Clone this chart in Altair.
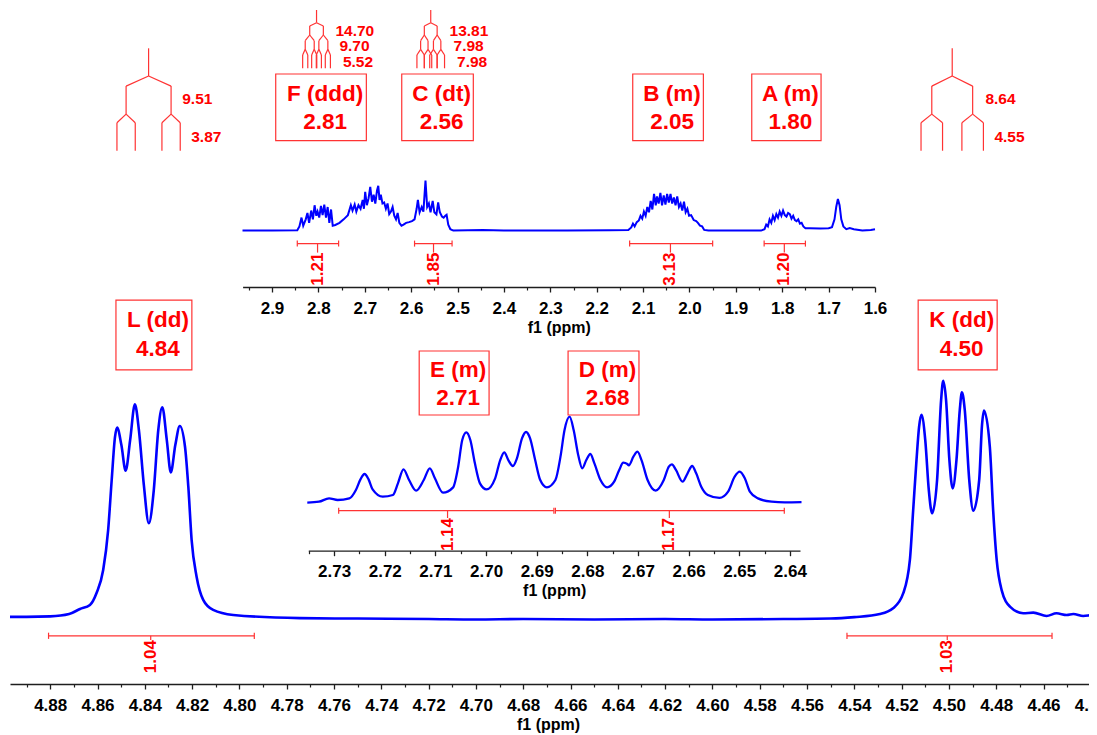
import altair as alt
import pandas as pd

MHZ = 500.0
FONT = "Liberation Sans"
RED = "#FF0000"
LINE_RED = "#FF3333"
BLUE = "#0000FF"
AXC = "#1E1E1E"

# ---------------- spectra (ppm, relative intensity) ----------------
MAIN_PPM = [4.8970, 4.8900, 4.8800, 4.8720, 4.8674, 4.8632, 4.8604, 4.8576, 4.8555, 4.8540,
            4.8526, 4.8517, 4.8499, 4.8481, 4.8462, 4.8442, 4.8425, 4.8404, 4.8383, 4.8362,
            4.8343, 4.8326, 4.8307, 4.8290, 4.8271, 4.8252, 4.8230, 4.8216, 4.8202, 4.8181,
            4.8153, 4.8111, 4.8026, 4.7744, 4.7500, 4.7200, 4.7000, 4.6800, 4.6500, 4.6200,
            4.6000, 4.5700, 4.5500, 4.5400, 4.5292, 4.5236, 4.5193, 4.5165, 4.5151, 4.5137,
            4.5126, 4.5116, 4.5100, 4.5085, 4.5071, 4.5050, 4.5033, 4.5024, 4.5012, 4.4998,
            4.4984, 4.4968, 4.4954, 4.4945, 4.4933, 4.4914, 4.4897, 4.4872, 4.4860, 4.4852,
            4.4827, 4.4813, 4.4798, 4.4777, 4.4742, 4.4686, 4.4643, 4.4587, 4.4545, 4.4502,
            4.4474, 4.4432, 4.4390, 4.4300]
MAIN_INT = [1.3, 1.3, 1.5, 2.5, 4.6, 6.3, 11.3, 20.9, 37.6, 58.5,
            76.5, 80.4, 73.1, 62.4, 75.2, 90.1, 79.4, 56.4, 40.4, 54.3,
            79.4, 88.9, 75.2, 61.7, 73.1, 81.1, 72.4, 55.7, 33.4, 18.1,
            8.4, 4.2, 2.1, 0.8, 0.6, 0.4, 0.2, 0.4, 0.2, 0.4,
            0.2, 0.4, 0.6, 1.2, 2.5, 4.9, 11.2, 25.1, 46.0, 66.9,
            80.8, 85.7, 75.2, 54.3, 44.6, 58.5, 91.9, 100.0, 91.9, 66.9,
            55.0, 66.9, 87.8, 95.2, 87.8, 58.5, 45.7, 58.5, 81.5, 87.5,
            72.4, 46.0, 25.1, 12.5, 5.6, 2.8, 3.1, 1.7, 2.8, 2.1,
            2.5, 1.7, 2.1, 2.0]

TOP_PPM = [2.9636, 2.9000, 2.8455, 2.8409, 2.8364, 2.8327, 2.8273, 2.8236, 2.8200, 2.8155,
           2.8118, 2.8082, 2.8045, 2.8018, 2.7982, 2.7945, 2.7909, 2.7873, 2.7836, 2.7800,
           2.7764, 2.7727, 2.7691, 2.7636, 2.7545, 2.7455, 2.7364, 2.7300, 2.7264, 2.7218,
           2.7182, 2.7136, 2.7091, 2.7045, 2.7018, 2.6991, 2.6955, 2.6918, 2.6882, 2.6845,
           2.6809, 2.6773, 2.6736, 2.6709, 2.6682, 2.6655, 2.6618, 2.6582, 2.6545, 2.6509,
           2.6473, 2.6436, 2.6400, 2.6364, 2.6327, 2.6291, 2.6255, 2.6209, 2.6164, 2.6109,
           2.6045, 2.5982, 2.5927, 2.5882, 2.5855, 2.5818, 2.5773, 2.5736, 2.5691, 2.5655,
           2.5618, 2.5582, 2.5536, 2.5500, 2.5455, 2.5418, 2.5382, 2.5336, 2.5300, 2.5264,
           2.5236, 2.5200, 2.5155, 2.5091, 2.4455, 2.4000, 2.2636, 2.1727, 2.1318,
           2.1255, 2.1218, 2.1182, 2.1136, 2.1091, 2.1055, 2.1018, 2.0982, 2.0945, 2.0909,
           2.0873, 2.0836, 2.0800, 2.0764, 2.0727, 2.0700, 2.0664, 2.0627, 2.0591, 2.0555,
           2.0518, 2.0482, 2.0445, 2.0409, 2.0373, 2.0336, 2.0300, 2.0264, 2.0227, 2.0191,
           2.0155, 2.0118, 2.0082, 2.0045, 2.0009, 1.9964, 1.9909, 1.9855, 1.9818, 1.9773,
           1.9727, 1.9682, 1.9591, 1.8455,
           1.8382, 1.8345, 1.8309, 1.8273, 1.8236, 1.8200, 1.8164, 1.8127, 1.8091, 1.8055,
           1.8018, 1.7982, 1.7945, 1.7909, 1.7873, 1.7836, 1.7800, 1.7764, 1.7727, 1.7691,
           1.7655, 1.7618, 1.7582, 1.7545, 1.7500, 1.7409, 1.7182, 1.7000,
           1.6927, 1.6873, 1.6836, 1.6800, 1.6764, 1.6727, 1.6682, 1.6618, 1.6545, 1.6455,
           1.6273, 1.6091, 1.6000]
TOP_INT = [0.0, 0.0, 0.7, 8.4, 26.0, 9.8, 22.5, 35.2, 15.5, 40.1,
           22.5, 50.7, 29.6, 38.0, 26.0, 49.3, 31.0, 52.1, 26.0, 47.2,
           15.5, 42.2, 9.8, 11.2, 15.5, 22.5, 31.0, 50.7, 40.1, 52.1,
           38.0, 50.7, 43.6, 61.3, 43.6, 77.5, 50.7, 64.8, 87.4, 57.8,
           71.8, 54.2, 80.3, 89.5, 61.3, 71.8, 54.2, 56.3, 43.6, 54.2,
           33.1, 38.0, 47.2, 29.6, 22.5, 35.2, 15.5, 9.8, 11.9, 15.5,
           16.9, 19.0, 22.5, 43.6, 61.3, 36.6, 47.2, 38.0, 100.0, 47.2,
           54.2, 36.6, 59.2, 36.6, 32.4, 56.3, 36.6, 28.1, 26.0, 29.6,
           31.7, 11.9, 2.8, 0.0, 1.4, 0.0, 0.0, 0.7, 1.4,
           6.3, 14.0, 8.4, 16.9, 20.4, 29.6, 23.9, 38.0, 29.6, 47.2,
           36.6, 59.2, 42.2, 73.3, 50.7, 68.3, 54.2, 75.4, 50.7, 70.4,
           52.1, 73.3, 56.3, 73.3, 54.2, 66.2, 50.7, 68.3, 47.2, 54.2,
           40.1, 57.8, 36.6, 43.6, 29.6, 31.0, 21.1, 19.0, 15.5, 9.8,
           8.4, 1.4, 0.0, 0.0,
           2.8, 11.9, 8.4, 22.5, 15.5, 29.6, 21.1, 33.1, 26.0, 38.0,
           29.6, 40.1, 31.0, 28.1, 35.2, 33.1, 23.9, 29.6, 21.1, 19.0,
           22.5, 14.0, 15.5, 8.4, 4.9, 4.9, 4.2, 4.9,
           7.0, 22.5, 47.2, 63.4, 50.7, 22.5, 8.4, 2.8, 4.9, 2.8,
           0.0, 1.4, 2.8]

MID_PPM = [2.7353, 2.7330, 2.7310, 2.7293, 2.7270, 2.7257, 2.7248, 2.7240, 2.7232, 2.7224,
           2.7204, 2.7184, 2.7174, 2.7163, 2.7152, 2.7138, 2.7123, 2.7111, 2.7101, 2.7085,
           2.7065, 2.7055, 2.7047, 2.7039, 2.7031, 2.7022, 2.7012, 2.6999, 2.6982, 2.6972,
           2.6964, 2.6956, 2.6947, 2.6939, 2.6929, 2.6921, 2.6913, 2.6903, 2.6893, 2.6880,
           2.6863, 2.6853, 2.6845, 2.6835, 2.6827, 2.6818, 2.6810, 2.6802, 2.6794, 2.6786,
           2.6774, 2.6761, 2.6747, 2.6737, 2.6729, 2.6721, 2.6718, 2.6709, 2.6701, 2.6693,
           2.6681, 2.6665, 2.6649, 2.6639, 2.6633, 2.6625, 2.6612, 2.6602, 2.6593, 2.6585,
           2.6575, 2.6562, 2.6539, 2.6522, 2.6509, 2.6499, 2.6489, 2.6479, 2.6463, 2.6436,
           2.6410, 2.6377]
MID_INT = [-1.1, 0.0, 3.9, 2.0, 3.9, 13.8, 26.3, 32.6, 26.3, 14.5,
           5.9, 7.9, 21.6, 38.1, 25.5, 13.0, 25.5, 39.2, 27.5, 10.6,
           16.9, 41.2, 72.6, 81.6, 72.6, 45.1, 21.6, 14.5, 27.5, 49.0,
           58.1, 49.0, 42.0, 51.0, 74.5, 82.0, 74.5, 49.0, 25.5, 16.9,
           25.5, 53.0, 84.3, 100.0, 84.3, 54.9, 39.2, 49.0, 56.1, 45.1,
           25.5, 16.9, 23.6, 37.3, 45.9, 44.3, 42.8, 53.0, 58.8, 49.0,
           25.5, 13.0, 25.5, 41.2, 43.9, 37.3, 23.6, 33.4, 42.0, 33.4,
           17.7, 7.9, 4.4, 11.8, 29.4, 35.3, 27.5, 11.8, 3.9, 0.0,
           -0.7, -0.4]

# ---------------- integrals ----------------
MAIN_INT_START = [4.8807, 4.5431]
MAIN_INT_END = [4.7937, 4.4564]
MAIN_INT_MID = [4.8375, 4.5007]
MAIN_INT_VAL = ["1.04", "1.03"]

TOP_INT_START = [2.8455, 2.5927, 2.1290, 1.8390]
TOP_INT_END = [2.7564, 2.5118, 1.9500, 1.7500]
TOP_INT_MID = [2.8018, 2.5518, 2.0410, 1.7955]
TOP_INT_VAL = ["1.21", "1.85", "3.13", "1.20"]

MID_INT_START = [2.7291, 2.6863]
MID_INT_END = [2.6866, 2.6411]
MID_INT_MID = [2.7076, 2.6638]
MID_INT_VAL = ["1.14", "1.17"]

# ---------------- multiplet boxes ----------------
MAIN_BOX_LEFT = [4.8522, 4.5130]
MAIN_BOX_RIGHT = [4.8201, 4.4796]
MAIN_BOX_NAME = ["L (dd)", "K (dd)"]
MAIN_BOX_SHIFT = ["4.84", "4.50"]

TOP_BOX_LEFT = [2.8920, 2.6203, 2.1223, 1.8657]
TOP_BOX_RIGHT = [2.6966, 2.4660, 1.9700, 1.7163]
TOP_BOX_NAME = ["F (ddd)", "C (dt)", "B (m)", "A (m)"]
TOP_BOX_SHIFT = ["2.81", "2.56", "2.05", "1.80"]

MID_BOX_LEFT = [2.7132, 2.6838]
MID_BOX_RIGHT = [2.6994, 2.6698]
MID_BOX_NAME = ["E (m)", "D (m)"]
MID_BOX_SHIFT = ["2.71", "2.68"]

# ---------------- coupling trees (Hz) ----------------
MAIN_TREE_CENTER = [4.8384, 4.4986]
MAIN_TREE_J = [[9.51, 3.87], [8.64, 4.55]]
TOP_TREE_CENTER = [2.8040, 2.5578]
TOP_TREE_J = [[14.70, 9.70, 5.52], [13.81, 7.98, 7.98]]

# ---------------- axis ticks ----------------
MAIN_TICKS = [4.44, 4.46, 4.48, 4.50, 4.52, 4.54, 4.56, 4.58, 4.60, 4.62, 4.64, 4.66,
              4.68, 4.70, 4.72, 4.74, 4.76, 4.78, 4.80, 4.82, 4.84, 4.86, 4.88]
MAIN_MINOR = [4.45, 4.47, 4.49, 4.51, 4.53, 4.55, 4.57, 4.59, 4.61, 4.63, 4.65,
              4.67, 4.69, 4.71, 4.73, 4.75, 4.77, 4.79, 4.81, 4.83, 4.85, 4.87, 4.89]
TOP_TICKS = [1.6, 1.7, 1.8, 1.9, 2.0, 2.1, 2.2, 2.3, 2.4, 2.5, 2.6, 2.7, 2.8, 2.9]
TOP_MINOR = [1.65, 1.75, 1.85, 1.95, 2.05, 2.15, 2.25, 2.35, 2.45, 2.55, 2.65, 2.75, 2.85, 2.95]
MID_TICKS = [2.64, 2.65, 2.66, 2.67, 2.68, 2.69, 2.70, 2.71, 2.72, 2.73]
MID_MINOR = [2.645, 2.655, 2.665, 2.675, 2.685, 2.695, 2.705, 2.715, 2.725, 2.735]

# ---------------- layout ----------------
# the main axis runs past the right edge of the picture, as in the reference
W, H = 1095, 676

REGIONS = {
    "main": dict(
        ppm=MAIN_PPM, inten=MAIN_INT, interp="monotone", lw=2.6,
        xdom=[4.8970, 4.4340], xrange=[0, 1095], yrange=[612, 372.7],
        ticks=MAIN_TICKS, minor=MAIN_MINOR, fmt=".2f", offset=0, title_x=538,
        int_s=MAIN_INT_START, int_e=MAIN_INT_END, int_c=MAIN_INT_MID, int_v=MAIN_INT_VAL,
        int_lvl=-6.6, int_cap=1.3, int_top=-8.4,
        box_l=MAIN_BOX_LEFT, box_r=MAIN_BOX_RIGHT, box_n=MAIN_BOX_NAME, box_s=MAIN_BOX_SHIFT,
        box_t=133.7, box_b=104.5, txt1=125.2, txt2=113.4,
        tree_c=MAIN_TREE_CENTER, tree_j=MAIN_TREE_J,
        tree_lv=[238.9, 227.3, 223.1, 211.4, 207.8, 196.1],
        jlab_y=[217.7, 201.8], jlab_dx=[2, 11],
    ),
    "top": dict(
        ppm=TOP_PPM, inten=TOP_INT, interp="linear", lw=2.0,
        xdom=[2.9634, 1.6], xrange=[232.6, 865], yrange=[222.6, 172.6],
        ticks=TOP_TICKS, minor=TOP_MINOR, fmt=".1f", offset=-397, title_x=None,
        int_s=TOP_INT_START, int_e=TOP_INT_END, int_c=TOP_INT_MID, int_v=TOP_INT_VAL,
        int_lvl=-26.0, int_cap=6.0, int_top=-44.0,
        box_l=TOP_BOX_LEFT, box_r=TOP_BOX_RIGHT, box_n=TOP_BOX_NAME, box_s=TOP_BOX_SHIFT,
        box_t=313.2, box_b=179.8, txt1=273.6, txt2=217.8,
        tree_c=TOP_TREE_CENTER, tree_j=TOP_TREE_J,
        tree_lv=[441.2, 415.8, 409.2, 391.2, 379.8, 362.6, 351.2, 324.6],
        jlab_y=[399.2, 369.2, 337.8], jlab_dx=[5, 9, 12.5],
    ),
    "mid": dict(
        ppm=MID_PPM, inten=MID_INT, interp="monotone", lw=2.3,
        xdom=[2.7351, 2.6380], xrange=[298.3, 790], yrange=[493.7, 408.7],
        ticks=MID_TICKS, minor=MID_MINOR, fmt=".2f", offset=-133.3, title_x=None,
        int_s=MID_INT_START, int_e=MID_INT_END, int_c=MID_INT_MID, int_v=MID_INT_VAL,
        int_lvl=-10.6, int_cap=3.5, int_top=-19.2,
        box_l=MID_BOX_LEFT, box_r=MID_BOX_RIGHT, box_n=MID_BOX_NAME, box_s=MID_BOX_SHIFT,
        box_t=177.3, box_b=102.0, txt1=154.5, txt2=121.5,
        tree_c=[], tree_j=[], tree_lv=[], jlab_y=[], jlab_dx=[],
    ),
}


def tree_frame(centers, jsets, levels):
    rows = []
    for c, js in zip(centers, jsets):
        rows.append(dict(x=c, x2=c, y=levels[0], y2=levels[1]))
        nodes = [c]
        for k, j in enumerate(js):
            h = j / MHZ / 2.0
            ya, yb, yc = levels[2 * k + 1], levels[2 * k + 2], levels[2 * k + 3]
            nxt = []
            for n in nodes:
                for ch in (n + h, n - h):
                    rows.append(dict(x=n, x2=ch, y=ya, y2=yb))
                    rows.append(dict(x=ch, x2=ch, y=yb, y2=yc))
                    nxt.append(ch)
            nodes = nxt
    return pd.DataFrame(rows)


def build_region(R):
    xs = alt.Scale(domain=R["xdom"], range=R["xrange"], nice=False, zero=False)
    ys = alt.Scale(domain=[0, 100], range=R["yrange"], nice=False, zero=False)
    ax_kw = dict(values=R["ticks"], format=R["fmt"], orient="bottom", offset=R["offset"],
                 domainColor=AXC, domainWidth=1.3, tickColor=AXC, tickWidth=1.3, tickSize=5,
                 labelFont=FONT, labelFontSize=17, labelFontWeight="bold", labelColor="#000000",
                 labelPadding=8, labelOverlap=False, labelFlush=False,
                 title="f1 (ppm)", titleFont=FONT, titleFontSize=16, titleFontWeight="bold",
                 titleColor="#000000", titlePadding=3, grid=False)
    if R["title_x"] is not None:
        ax_kw["titleX"] = R["title_x"]
    ax_major = alt.Axis(**ax_kw)
    ax_minor = alt.Axis(values=R["minor"], orient="bottom", offset=R["offset"], domain=False,
                        labels=False, ticks=True, tickSize=3, tickColor=AXC, tickWidth=1.2,
                        title=None, grid=False)

    layers = []
    spec = pd.DataFrame({"ppm": R["ppm"], "inten": R["inten"]})
    layers.append(alt.Chart(spec).mark_line(color=BLUE, strokeWidth=R["lw"], interpolate=R["interp"]).encode(
        x=alt.X("ppm:Q", scale=xs, axis=ax_major),
        y=alt.Y("inten:Q", scale=ys, axis=None)))

    ig = pd.DataFrame({"s": R["int_s"], "e": R["int_e"], "c": R["int_c"], "lab": R["int_v"]})
    ig["lvl"] = R["int_lvl"]
    ig["top"] = R["int_top"]
    layers.append(alt.Chart(ig).mark_rule(color=LINE_RED, strokeWidth=1.2).encode(
        x=alt.X("s:Q", scale=xs, axis=ax_minor), x2="e:Q",
        y=alt.Y("lvl:Q", scale=ys, axis=None)))
    caps = pd.DataFrame({"x": list(R["int_s"]) + list(R["int_e"])})
    caps["y1"] = R["int_lvl"] - R["int_cap"]
    caps["y2"] = R["int_lvl"] + R["int_cap"]
    layers.append(alt.Chart(caps).mark_rule(color=LINE_RED, strokeWidth=1.2).encode(
        x=alt.X("x:Q", scale=xs, axis=None),
        y=alt.Y("y1:Q", scale=ys, axis=None), y2="y2:Q"))
    layers.append(alt.Chart(ig).mark_rule(color=LINE_RED, strokeWidth=1.2).encode(
        x=alt.X("c:Q", scale=xs, axis=None),
        y=alt.Y("lvl:Q", scale=ys, axis=None), y2="top:Q"))
    layers.append(alt.Chart(ig).mark_text(angle=270, align="right", baseline="middle", font=FONT,
                                          fontSize=17, fontWeight="bold", color=RED).encode(
        x=alt.X("c:Q", scale=xs, axis=None),
        y=alt.Y("top:Q", scale=ys, axis=None), text="lab:N"))

    bx = pd.DataFrame({"l": R["box_l"], "r": R["box_r"], "name": R["box_n"], "shift": R["box_s"]})
    bx["c"] = (bx["l"] + bx["r"]) / 2
    bx["t"] = R["box_t"]
    bx["b"] = R["box_b"]
    bx["t1"] = R["txt1"]
    bx["t2"] = R["txt2"]
    layers.append(alt.Chart(bx).mark_rect(fillOpacity=0, stroke=LINE_RED, strokeWidth=1.2).encode(
        x=alt.X("l:Q", scale=xs, axis=None), x2="r:Q",
        y=alt.Y("t:Q", scale=ys, axis=None), y2="b:Q"))
    for fld, lvl in (("name", "t1"), ("shift", "t2")):
        layers.append(alt.Chart(bx).mark_text(align="center", baseline="middle", dx=4, font=FONT,
                                              fontSize=22.5, fontWeight="bold", color=RED).encode(
            x=alt.X("c:Q", scale=xs, axis=None),
            y=alt.Y(f"{lvl}:Q", scale=ys, axis=None), text=f"{fld}:N"))

    if R["tree_c"]:
        tr = tree_frame(R["tree_c"], R["tree_j"], R["tree_lv"])
        layers.append(alt.Chart(tr).mark_rule(color=LINE_RED, strokeWidth=1.2).encode(
            x=alt.X("x:Q", scale=xs, axis=None), x2="x2:Q",
            y=alt.Y("y:Q", scale=ys, axis=None), y2="y2:Q"))
        for k, (ylev, dx) in enumerate(zip(R["jlab_y"], R["jlab_dx"])):
            rows = []
            for c, js in zip(R["tree_c"], R["tree_j"]):
                rightmost = c - sum(js) / MHZ / 2.0
                rows.append(dict(x=rightmost, y=ylev, lab=f"{js[k]:.2f}"))
            jl = pd.DataFrame(rows)
            layers.append(alt.Chart(jl).mark_text(align="left", baseline="middle", dx=dx, font=FONT,
                                                  fontSize=15.5, fontWeight="bold", color=RED).encode(
                x=alt.X("x:Q", scale=xs, axis=None),
                y=alt.Y("y:Q", scale=ys, axis=None), text="lab:N"))

    return alt.layer(*layers).resolve_axis(x="independent")


chart = alt.layer(
    build_region(REGIONS["main"]),
    build_region(REGIONS["top"]),
    build_region(REGIONS["mid"]),
).resolve_scale(x="independent", y="independent").properties(
    width=W, height=H,
    autosize=alt.AutoSizeParams(type="none"),
    padding={"left": 2, "top": 0, "right": -16, "bottom": 51},
    background="white",
).configure_view(strokeWidth=0)

chart.save("out.html", embed_options={"renderer": "svg", "actions": False})
